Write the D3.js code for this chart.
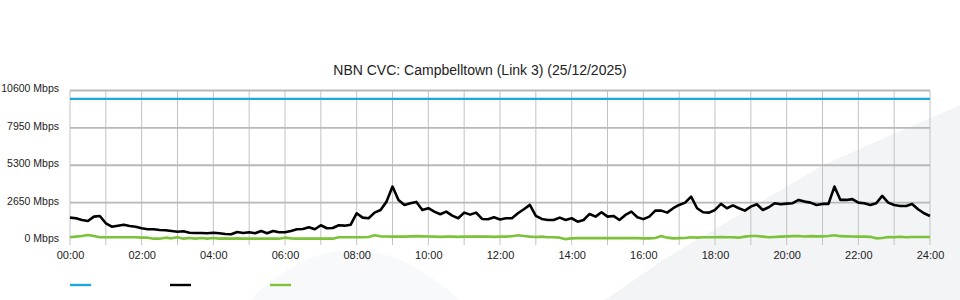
<!DOCTYPE html>
<html>
<head>
<meta charset="utf-8">
<script src="https://cdn.jsdelivr.net/npm/d3@7"></script>
<style>
body{margin:0;background:#fff;}
svg{display:block;font-family:"Liberation Sans",Arial,sans-serif;}
.title{font-size:14px;fill:#222;}
.tick text{font-size:11px;fill:#222;}
.yax .tick text{font-size:10.5px;}
</style>
</head>
<body>
<svg id="cvc"></svg>
<script>
// 10 minute samples, 00:00 -> 24:00
var stepMinutes = 10

var capacity = [10000]

var traffic = [
    1584,1542,1421,1350,1655,1705,
    1187,945,1016,1087,995,945,
    831,760,760,710,689,640,
    590,618,519,497,497,476,
    519,476,426,405,568,497,
    547,476,640,476,640,547,
    547,640,760,781,902,760,
    1044,831,852,1044,1016,1087,
    1897,1584,1542,1940,2131,2721,
    3787,2842,2487,2608,2700,2131,
    2252,2011,1826,2011,1727,1542,
    1940,1798,1940,1492,1470,1613,
    1450,1542,1542,1897,2181,2487,
    1705,1492,1421,1421,1584,1421,
    1542,1300,1421,1847,1655,1968,
    1655,1705,1421,1776,2011,1613,
    1480,1655,2082,2082,1940,2252,
    2487,2650,3077,2252,1968,1940,
    2131,2558,2252,2450,2252,2082,
    2366,2537,2131,2323,2608,2537,
    2580,2608,2842,2721,2650,2487,
    2558,2558,3787,2842,2842,2900,
    2650,2608,2487,2608,3126,2650,
    2487,2416,2416,2558,2181,1897,
    1705
]

var upstream = [
    190,237,284,355,284,190,
    190,190,190,190,190,190,
    166,166,95,95,166,118,
    190,95,142,95,142,95,
    142,95,118,95,118,95,
    95,95,95,95,95,95,
    166,118,95,95,95,95,
    95,95,95,190,190,190,
    190,190,213,334,260,249,
    237,249,237,260,272,260,
    249,237,225,237,237,225,
    237,237,237,237,237,225,
    237,237,272,331,284,237,
    213,237,190,190,166,60,
    118,130,130,130,130,130,
    130,130,130,130,130,130,
    118,118,142,284,166,118,
    130,142,190,166,190,190,
    190,213,190,190,166,237,
    284,284,237,190,213,237,
    260,272,284,249,272,260,
    260,284,331,272,260,249,
    237,237,225,118,142,213,
    190,225,190,213,213,213,
    213
]

var yTicks = [0,2650,5300,7950,10600]
var xTickHours = [0,2,4,6,8,10,12,14,16,18,20,22,24]
var titleText = "NBN CVC: Campbelltown (Link 3) (25/12/2025)"
var legendColors = ["#1ea7e4","#000000","#7cc23a"]

var screen = {width:960,height:300}
var margins = {left:70,right:30,top:90,bottom:60}

var svg = d3.select("#cvc")
    .attr("width",screen.width)
    .attr("height",screen.height)

// faint watermark shapes behind the chart
svg.append("path")
    .attr("d","M960,105 L823,165 L663,260 L605,300 L960,300 Z")
    .attr("fill","#f3f4f6")
svg.append("path")
    .attr("d","M250,300 Q350,200 460,300 Z")
    .attr("fill","#f8f9fa")

var xScale = d3.scaleLinear()
    .domain([0,24*60])
    .range([margins.left,screen.width-margins.right])

var yScale = d3.scaleLinear()
    .domain([0,10600])
    .range([240,90.5])

var grid = svg.append("g")

grid.selectAll(".vline")
    .data(d3.range(0,25))
    .enter()
    .append("line")
    .attr("x1",function(h){return xScale(h*60)})
    .attr("x2",function(h){return xScale(h*60)})
    .attr("y1",yScale(10600))
    .attr("y2",245)
    .attr("stroke","#c2c2c2")
    .attr("stroke-width",1)

grid.selectAll(".hline")
    .data(yTicks.slice(1))
    .enter()
    .append("line")
    .attr("x1",xScale(0))
    .attr("x2",xScale(24*60))
    .attr("y1",function(v){return yScale(v)})
    .attr("y2",function(v){return yScale(v)})
    .attr("stroke","#b8b8b8")
    .attr("stroke-width",1.8)

var yAxis = d3.axisLeft(yScale)
    .tickValues(yTicks)
    .tickSize(0)
    .tickPadding(11)
    .tickFormat(function(v){return v+" Mbps"})

svg.append("g")
    .classed("yax",true)
    .attr("transform","translate("+margins.left+",-2)")
    .call(yAxis)
    .call(function(g){g.select(".domain").remove()})

var xAxis = d3.axisBottom(xScale)
    .tickValues(xTickHours.map(function(h){return h*60}))
    .tickSize(0)
    .tickPadding(8)
    .tickFormat(function(m){return d3.format("02")(m/60)+":00"})

svg.append("g")
    .attr("transform","translate(0,243)")
    .call(xAxis)
    .call(function(g){g.select(".domain").remove()})

svg.append("text")
    .text(titleText)
    .classed("title",true)
    .attr("text-anchor","middle")
    .attr("x",480)
    .attr("y",75)

var line = d3.line()
    .x(function(v,i){return xScale(i*stepMinutes)})
    .y(function(v){return yScale(v)})

// capacity line spans the whole day
svg.append("path")
    .datum([capacity[0],capacity[0]])
    .attr("d",d3.line()
        .x(function(v,i){return xScale(i*24*60)})
        .y(function(v){return yScale(v)}))
    .attr("fill","none")
    .attr("stroke",legendColors[0])
    .attr("stroke-width",2.2)

svg.append("path")
    .datum(upstream)
    .attr("d",line)
    .attr("fill","none")
    .attr("stroke",legendColors[2])
    .attr("stroke-width",2.6)
    .attr("stroke-linejoin","round")

svg.append("path")
    .datum(traffic)
    .attr("d",line)
    .attr("fill","none")
    .attr("stroke",legendColors[1])
    .attr("stroke-width",2.6)
    .attr("stroke-linejoin","round")

var legend = svg.append("g")
legend.selectAll("line")
    .data(legendColors)
    .enter()
    .append("line")
    .attr("x1",function(c,i){return 70+i*100})
    .attr("x2",function(c,i){return 91+i*100})
    .attr("y1",285)
    .attr("y2",285)
    .attr("stroke",function(c){return c})
    .attr("stroke-width",2.4)
</script>
</body>
</html>
